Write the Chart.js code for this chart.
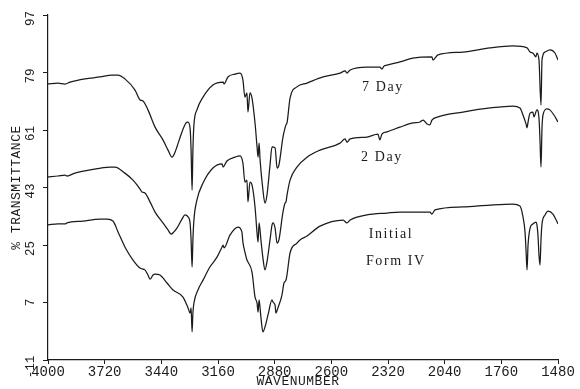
<!DOCTYPE html>
<html>
<head>
<meta charset="utf-8">
<script src="https://cdn.jsdelivr.net/npm/chart.js@4/dist/chart.umd.min.js"></script>
<style>
  html, body { margin: 0; padding: 0; background: #fff; }
</style>
</head>
<body>
<canvas id="c" width="580" height="389"></canvas>
<script>
// Axis ticks
const xTicks = [4000, 3720, 3440, 3160, 2880, 2600, 2320, 2040, 1760, 1480];
const yTicks = [-11, 7, 25, 43, 61, 79, 97];

// 7 Day spectrum: wavenumber (cm-1) and % transmittance
const wn7 = [4000,3951,3916,3891,3817,3743,3684,3654,3620,3570,3545,3531,3506,3471,3432,3407,3387,3372,3363,3338,3318,3308,3298,3293,3288,3284,3279,3264,3234,3185,3135,3130,3111,3076,3051,3037,3027,3017,3012,3002,2992,2977,2967,2962,2957,2952,2938,2928,2918,2903,2893,2878,2868,2859,2839,2829,2824,2819,2804,2770,2720,2641,2557,2532,2523,2507,2424,2360,2350,2340,2325,2261,2197,2103,2098,2073,1950,1816,1703,1633,1618,1604,1589,1584,1574,1564,1559,1544,1520,1495,1480];
const t7 = [75.4,75.7,75.4,76.0,77.0,77.6,78.2,78.2,77.0,73.5,70.4,70.1,67.3,61.9,57.9,54.7,52.5,54.1,55.7,60.4,63.2,63.5,61.6,54.7,42.2,54.7,62.6,67.3,71.3,75.1,76.0,75.4,77.6,78.5,78.8,76.7,71.3,72.6,66.6,72.6,71.0,63.2,55.7,52.5,56.9,51.6,42.2,38.1,40.6,50.0,55.7,55.4,49.1,50.0,58.8,61.6,62.6,63.2,71.0,74.5,75.7,77.6,78.8,79.5,78.8,79.8,80.7,80.7,80.1,81.0,81.3,82.3,83.5,83.9,82.9,84.5,85.4,86.7,87.3,86.7,85.4,85.1,83.9,85.1,82.9,68.8,82.9,85.4,86.1,85.1,82.9];

// 2 Day spectrum
const wn2 = [4000,3951,3916,3906,3867,3793,3694,3669,3620,3580,3545,3536,3521,3496,3471,3432,3407,3392,3378,3363,3338,3323,3308,3298,3293,3288,3284,3279,3264,3234,3185,3140,3135,3116,3076,3051,3037,3027,3017,3012,3002,2992,2977,2967,2962,2957,2948,2938,2928,2918,2903,2893,2888,2878,2868,2859,2839,2829,2824,2819,2804,2770,2720,2656,2557,2532,2523,2507,2424,2370,2360,2350,2325,2261,2197,2162,2147,2127,2113,2103,2073,1950,1816,1703,1668,1653,1638,1633,1628,1618,1604,1599,1584,1574,1569,1564,1559,1554,1535,1520,1500,1480];
const t2 = [46.3,46.6,46.9,46.6,47.5,48.5,49.4,49.4,47.5,45.3,42.5,41.6,41.3,38.5,35.3,31.9,29.7,28.4,29.1,30.3,33.1,34.4,33.8,31.9,26.6,18.1,26.6,32.8,39.1,44.4,49.1,50.4,49.4,51.3,52.5,52.9,50.7,44.7,45.3,38.5,44.7,43.8,36.9,28.7,25.9,31.9,26.6,20.9,17.2,19.7,26.6,31.3,31.9,30.3,25.6,26.6,35.3,38.1,38.5,40.6,45.3,49.4,52.5,54.7,56.9,58.2,57.2,58.2,58.8,59.7,57.9,59.7,60.4,61.9,63.2,63.5,64.1,62.9,62.6,64.1,65.1,66.6,67.9,68.5,67.9,65.7,62.9,61.7,63.5,66.3,66.6,65.1,67.3,64.8,57.9,49.4,61.7,65.7,67.6,67.3,65.7,63.5];

// Initial (Form IV) spectrum
const wnInit = [4000,3951,3916,3906,3827,3743,3709,3679,3654,3620,3580,3545,3521,3506,3496,3481,3471,3447,3412,3382,3333,3308,3298,3293,3288,3284,3279,3259,3234,3200,3165,3140,3135,3130,3101,3061,3042,3037,3027,3017,3012,2992,2977,2967,2962,2957,2948,2938,2928,2913,2893,2888,2878,2874,2864,2844,2834,2824,2819,2804,2770,2755,2720,2656,2542,2523,2507,2424,2325,2261,2113,2103,2088,1950,1816,1703,1668,1653,1643,1638,1633,1628,1618,1604,1589,1584,1579,1574,1569,1564,1559,1544,1529,1505,1480];
const tInit = [31.3,31.6,31.6,31.9,32.5,33.1,33.1,32.5,29.1,24.4,20.3,17.8,17.2,15.6,14.3,15.6,15.9,15.6,13.1,10.9,8.7,5.3,3.7,5.3,-2.2,3.7,6.8,10.9,14.0,18.1,21.2,24.4,25.0,24.1,28.1,30.6,29.1,25.9,22.8,20.3,19.7,16.5,8.7,6.8,4.0,7.8,2.4,-2.2,-0.7,3.1,7.8,7.1,6.2,3.7,5.3,9.3,13.1,14.0,15.7,22.5,25.6,26.6,27.8,30.9,32.8,31.9,32.8,34.4,35.0,35.3,35.3,34.7,36.0,36.9,37.5,37.8,37.2,33.8,29.1,23.4,17.2,25.0,30.3,31.6,32.2,31.3,28.1,21.9,18.7,26.6,31.6,34.4,35.6,34.7,31.6];

// Trace captions, anchored in data units
const captions = [
  { text: '7 Day',   wn: 2345, t: 74.5 },
  { text: '2 Day',   wn: 2350, t: 52.5 },
  { text: 'Initial', wn: 2305, t: 28.4 },
  { text: 'Form IV', wn: 2281, t: 20.0 }
];

const INK = '#1b1b1b';
const toPoints = (xs, ys) => xs.map((v, i) => ({ x: v, y: ys[i] }));

const traceStyle = {
  borderColor: INK,
  borderWidth: 1.25,
  pointRadius: 0,
  fill: false,
  cubicInterpolationMode: 'monotone'
};

const textPlugin = {
  id: 'spectrumText',
  afterDraw(chart) {
    const { ctx, chartArea, scales: { x, y } } = chart;
    ctx.save();
    ctx.fillStyle = INK;

    // vertical tick labels on the transmittance axis
    ctx.font = '12.5px "Liberation Mono"';
    ctx.textAlign = 'center';
    ctx.textBaseline = 'middle';
    yTicks.forEach(v => {
      const label = String(v);
      const py = y.getPixelForValue(v) + (label.length - 1) * 3.5;
      ctx.save();
      ctx.translate(31, py);
      ctx.rotate(-Math.PI / 2);
      ctx.fillText(label, 0, 0);
      ctx.restore();
    });

    // axis titles
    ctx.font = '13px "Liberation Mono"';
    ctx.letterSpacing = '0.5px';
    ctx.save();
    ctx.translate(17, (chartArea.top + chartArea.bottom) / 2);
    ctx.rotate(-Math.PI / 2);
    ctx.fillText('% TRANSMITTANCE', 0, 0);
    ctx.restore();
    ctx.fillText('WAVENUMBER', 298, 382);

    // captions beside the traces
    ctx.font = '14px "Liberation Serif"';
    ctx.letterSpacing = '1.6px';
    captions.forEach(c => {
      ctx.fillText(c.text, x.getPixelForValue(c.wn), y.getPixelForValue(c.t));
    });
    ctx.restore();
  }
};

new Chart(document.getElementById('c'), {
  type: 'line',
  data: {
    datasets: [
      Object.assign({ label: '7 Day', data: toPoints(wn7, t7) }, traceStyle),
      Object.assign({ label: '2 Day', data: toPoints(wn2, t2) }, traceStyle),
      Object.assign({ label: 'Initial Form IV', data: toPoints(wnInit, tInit) }, traceStyle)
    ]
  },
  options: {
    responsive: false,
    animation: false,
    devicePixelRatio: 1,
    layout: { padding: { top: 15, right: 22, left: 0, bottom: 0 } },
    plugins: { legend: { display: false }, tooltip: { enabled: false } },
    scales: {
      x: {
        type: 'linear',
        reverse: true,
        min: 1480,
        max: 4000,
        afterBuildTicks: s => { s.ticks = xTicks.map(v => ({ value: v })); },
        afterFit: s => { s.height = 29; },
        grid: { drawOnChartArea: false, drawTicks: true, tickLength: 4, color: INK, lineWidth: 1 },
        border: { display: true, color: INK, width: 1.2 },
        ticks: {
          autoSkip: false, maxRotation: 0, minRotation: 0, padding: 0,
          color: INK, font: { family: 'Liberation Mono', size: 14 },
          callback: v => String(v)
        }
      },
      y: {
        type: 'linear',
        min: -11,
        max: 97,
        afterBuildTicks: s => { s.ticks = yTicks.map(v => ({ value: v })); },
        afterFit: s => { s.width = 48; },
        grid: { drawOnChartArea: false, drawTicks: true, tickLength: 5, color: INK, lineWidth: 1 },
        border: { display: true, color: INK, width: 1.2 },
        ticks: { color: 'rgba(0,0,0,0)', font: { size: 11 } }
      }
    }
  },
  plugins: [textPlugin]
});
</script>
</body>
</html>
